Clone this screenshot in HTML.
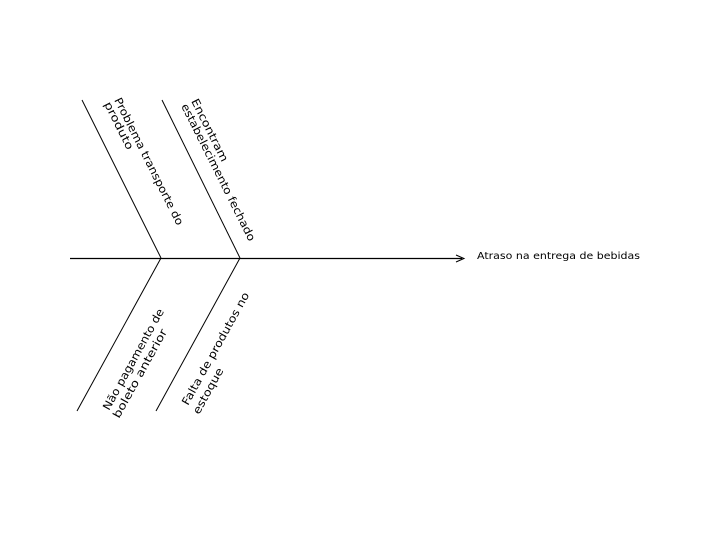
<!DOCTYPE html>
<html><head><style>body{margin:0;background:#fff}svg{display:block}</style></head><body>
<svg width="720" height="540" viewBox="0 0 720 540" xmlns="http://www.w3.org/2000/svg" font-family="DejaVu Sans, Liberation Sans, sans-serif" font-size="11" fill="#000">
<line x1="70" y1="258.5" x2="462" y2="258.5" stroke="#000" stroke-width="1.2"/>
<path d="M456,255 L464,258.5 L456,262" fill="none" stroke="#000" stroke-width="1"/>
<text x="477" y="259" font-size="10" textLength="163" lengthAdjust="spacingAndGlyphs">Atraso na entrega de bebidas</text>
<g stroke="#000" stroke-width="1">
<line x1="82" y1="100" x2="161" y2="258"/>
<line x1="162" y1="100" x2="240" y2="258"/>
<line x1="161" y1="258" x2="77" y2="411"/>
<line x1="240" y1="258" x2="156" y2="411"/>
</g>
<text transform="translate(114,100) rotate(63.4)" textLength="141" lengthAdjust="spacingAndGlyphs">Problema transporte do</text>
<text transform="translate(104,104) rotate(63.4)" textLength="52" lengthAdjust="spacingAndGlyphs">produto</text>
<text transform="translate(191,101) rotate(63.4)" textLength="69" lengthAdjust="spacingAndGlyphs">Encontram</text>
<text transform="translate(181,106) rotate(63.4)" textLength="152" lengthAdjust="spacingAndGlyphs">estabelecimento fechado</text>
<text transform="translate(109,411) rotate(-61)" textLength="114" lengthAdjust="spacingAndGlyphs">Não pagamento de</text>
<text transform="translate(119,419) rotate(-61)" textLength="100" lengthAdjust="spacingAndGlyphs">boleto anterior</text>
<text transform="translate(188,406) rotate(-61)" textLength="127" lengthAdjust="spacingAndGlyphs">Falta de produtos no</text>
<text transform="translate(199,415) rotate(-61)" textLength="51" lengthAdjust="spacingAndGlyphs">estoque</text>
</svg>
</body></html>
